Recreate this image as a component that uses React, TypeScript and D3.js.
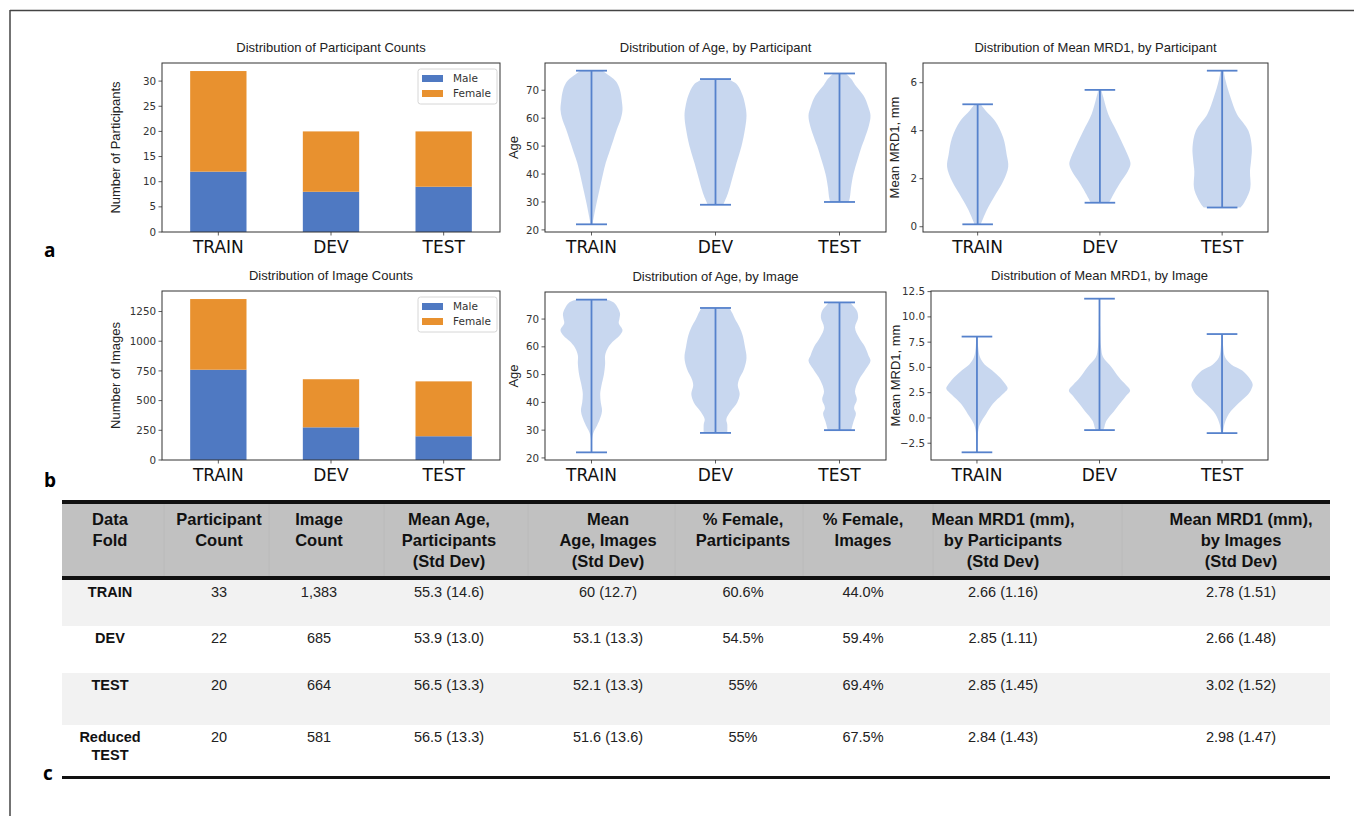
import React from "react";
import * as d3 from "d3";

const folds = ["TRAIN", "DEV", "TEST"];

// stacked bar values
const participantMale = [12, 8, 9];
const participantFemale = [20, 12, 11];
const imageMale = [760, 275, 200];
const imageFemale = [595, 405, 462];
const sexLabels = ["Male", "Female"];

const participantTicks = [0, 5, 10, 15, 20, 25, 30];
const imageTicks = [0, 250, 500, 750, 1000, 1250];
const ageTicks = [20, 30, 40, 50, 60, 70];
const mrdParticipantTicks = [0, 2, 4, 6];
const mrdImageTicks = [-2.5, 0, 2.5, 5, 7.5, 10, 12.5];

// violin outlines: [value, half-width relative to widest point]
// first entry = max (top cap), last entry = min (bottom cap)
const ageByParticipant = [
  [[77, 0.35], [75, 0.6], [73, 0.8], [70, 0.92], [66, 0.98], [63, 1.0], [60, 0.95], [56, 0.82], [52, 0.7], [48, 0.58], [44, 0.46], [40, 0.37], [35, 0.27], [30, 0.17], [25, 0.08], [22, 0.03]],
  [[74, 0.4], [72, 0.7], [68, 0.88], [64, 0.97], [61, 1.0], [56, 0.95], [50, 0.84], [44, 0.68], [38, 0.53], [33, 0.4], [29, 0.25]],
  [[76, 0.2], [74, 0.38], [72, 0.5], [68, 0.78], [64, 0.93], [61, 1.0], [57, 0.94], [53, 0.82], [50, 0.72], [45, 0.58], [40, 0.45], [35, 0.37], [32, 0.34], [30, 0.3]],
];
const mrdByParticipant = [
  [[5.1, 0.1], [4.85, 0.25], [4.4, 0.57], [3.7, 0.84], [3.0, 0.95], [2.5, 1.0], [1.9, 0.84], [1.2, 0.52], [0.7, 0.3], [0.1, 0.1]],
  [[5.7, 0.05], [5.4, 0.11], [4.7, 0.27], [4.0, 0.54], [3.3, 0.8], [2.8, 0.97], [2.6, 1.0], [2.3, 0.91], [1.8, 0.65], [1.2, 0.38], [1.0, 0.3]],
  [[6.5, 0.05], [6.1, 0.11], [5.4, 0.27], [4.7, 0.48], [4.0, 0.86], [3.3, 0.97], [2.8, 0.95], [2.3, 0.91], [1.6, 0.92], [1.0, 0.72], [0.8, 0.6]],
];
const ageByImage = [
  [[77, 0.5], [76, 0.72], [74, 0.85], [72, 0.92], [70, 0.9], [68.5, 0.88], [66, 1.0], [64, 0.9], [62, 0.7], [60, 0.55], [57, 0.44], [54, 0.44], [50, 0.4], [46, 0.32], [43, 0.28], [40, 0.3], [37, 0.34], [34, 0.27], [31, 0.15], [29, 0.06], [27, 0.02], [22, 0.01]],
  [[74, 0.45], [72, 0.55], [70, 0.63], [67, 0.78], [64, 0.88], [60, 0.95], [56, 1.0], [52, 0.92], [48, 0.75], [46, 0.72], [43, 0.78], [40, 0.7], [37, 0.5], [34, 0.35], [32, 0.38], [29, 0.38]],
  [[76, 0.35], [75, 0.42], [73, 0.56], [70.5, 0.6], [67, 0.5], [63.5, 0.62], [60, 0.82], [57, 0.93], [55, 1.0], [52, 0.85], [48, 0.62], [44, 0.5], [41, 0.56], [38, 0.47], [36, 0.53], [33, 0.45], [30, 0.38]],
];
const mrdByImage = [
  [[8.05, 0.02], [7, 0.04], [6, 0.1], [5.3, 0.25], [4.7, 0.5], [4, 0.75], [3.2, 0.96], [2.9, 1.0], [2.3, 0.82], [1.4, 0.52], [0.4, 0.3], [-0.6, 0.1], [-1.3, 0.04], [-2.5, 0.01], [-3.4, 0.0]],
  [[11.8, 0.01], [9, 0.02], [7, 0.05], [6, 0.12], [5, 0.4], [4, 0.64], [3.3, 0.85], [2.7, 1.0], [2.2, 0.87], [1.7, 0.74], [0.7, 0.48], [-0.3, 0.22], [-1.0, 0.15], [-1.2, 0.12]],
  [[8.3, 0.02], [7, 0.04], [6, 0.1], [5.3, 0.3], [4.7, 0.66], [4, 0.88], [3.3, 1.0], [2.8, 0.95], [2.3, 0.84], [1.4, 0.52], [0.4, 0.22], [-0.6, 0.08], [-1.5, 0.03]],
];

// table
const tableHeader = [
  ["Data", "Fold"],
  ["Participant", "Count"],
  ["Image", "Count"],
  ["Mean Age,", "Participants", "(Std Dev)"],
  ["Mean", "Age, Images", "(Std Dev)"],
  ["% Female,", "Participants"],
  ["% Female,", "Images"],
  ["Mean MRD1 (mm),", "by Participants", "(Std Dev)"],
  ["Mean MRD1 (mm),", "by Images", "(Std Dev)"],
];
const tableRows = [
  [["TRAIN"], "33", "1,383", "55.3 (14.6)", "60 (12.7)", "60.6%", "44.0%", "2.66 (1.16)", "2.78 (1.51)"],
  [["DEV"], "22", "685", "53.9 (13.0)", "53.1 (13.3)", "54.5%", "59.4%", "2.85 (1.11)", "2.66 (1.48)"],
  [["TEST"], "20", "664", "56.5 (13.3)", "52.1 (13.3)", "55%", "69.4%", "2.85 (1.45)", "3.02 (1.52)"],
  [["Reduced", "TEST"], "20", "581", "56.5 (13.3)", "51.6 (13.6)", "55%", "67.5%", "2.84 (1.43)", "2.98 (1.47)"],
];

const MPL = "'DejaVu Sans', sans-serif";
const ARIAL = "'Liberation Sans', Arial, sans-serif";
const MALE = "#4f79c2";
const FEMALE = "#e8912f";
const VIOLIN = "#4a7cc9";
const VLINE = "#5682cc";

const fmtMinus = (f) => (v) => f(v).replace("-", "\u2212");

function Axes({ x0, x1, y0, y1, y, ticks, fmt, title, ylabel, ylabelX, xpos, children }) {
  return (
    <g>
      {children}
      <rect x={x0} y={y0} width={x1 - x0} height={y1 - y0} fill="none" stroke="#333" strokeWidth={1} />
      {ticks.map((t) => (
        <g key={t}>
          <line x1={x0 - 3.5} x2={x0} y1={y(t)} y2={y(t)} stroke="#333" strokeWidth={0.8} />
          <text x={x0 - 6} y={y(t)} dy="0.35em" textAnchor="end" fontFamily={MPL} fontSize={10.3} fill="#333">
            {fmt(t)}
          </text>
        </g>
      ))}
      {xpos.map((p, i) => (
        <g key={folds[i]}>
          <line x1={p} x2={p} y1={y1} y2={y1 + 3.5} stroke="#333" strokeWidth={0.8} />
          <text x={p} y={y1 + 20.5} textAnchor="middle" fontFamily={MPL} fontSize={17} fill="#111">
            {folds[i]}
          </text>
        </g>
      ))}
      <text x={(x0 + x1) / 2} y={y0 - 11} textAnchor="middle" fontFamily={ARIAL} fontSize={13} fill="#222">
        {title}
      </text>
      <text
        transform={`translate(${ylabelX},${(y0 + y1) / 2}) rotate(-90)`}
        textAnchor="middle"
        fontFamily={ARIAL}
        fontSize={13}
        fill="#222"
      >
        {ylabel}
      </text>
    </g>
  );
}

function BarPanel({ x0, x1, y0, y1, male, female, ticks, title, ylabel }) {
  const x = d3.scaleBand().domain(folds).range([x0, x1]).paddingInner(0.5).paddingOuter(0.25);
  const totals = male.map((m, i) => m + female[i]);
  const y = d3.scaleLinear().domain([0, d3.max(totals) * 1.05]).range([y1, y0]);
  const rows = folds.map((f, i) => ({ fold: f, Male: male[i], Female: female[i] }));
  const stack = d3.stack().keys(sexLabels)(rows);
  const color = d3.scaleOrdinal().domain(sexLabels).range([MALE, FEMALE]);
  const lx = x1 - 82;
  const ly = y0 + 6;
  return (
    <Axes
      x0={x0} x1={x1} y0={y0} y1={y1} y={y} ticks={ticks} fmt={(v) => String(v)}
      title={title} ylabel={ylabel} ylabelX={120}
      xpos={folds.map((f) => x(f) + x.bandwidth() / 2)}
    >
      {stack.map((s) =>
        s.map((d, i) => (
          <rect
            key={s.key + i}
            x={x(folds[i])}
            y={y(d[1])}
            width={x.bandwidth()}
            height={y(d[0]) - y(d[1])}
            fill={color(s.key)}
          />
        ))
      )}
      <rect x={lx} y={ly} width={79} height={35} rx={2.5} fill="#fff" fillOpacity={0.85} stroke="#d6d6d6" />
      {sexLabels.map((k, i) => (
        <g key={k}>
          <rect x={lx + 4} y={ly + 6 + i * 15} width={21} height={7} fill={color(k)} />
          <text x={lx + 35} y={ly + 9.5 + i * 15} dy="0.35em" fontFamily={MPL} fontSize={10.5} fill="#333">
            {k}
          </text>
        </g>
      ))}
    </Axes>
  );
}

function ViolinPanel({ x0, x1, y0, y1, xmin = 0.625, profiles, ticks, fmt, title, ylabel, ylabelX }) {
  const x = d3.scaleLinear().domain([xmin, 3.375]).range([x0, x1]);
  const lo = d3.min(profiles, (p) => p[p.length - 1][0]);
  const hi = d3.max(profiles, (p) => p[0][0]);
  const pad = (hi - lo) * 0.05;
  const y = d3.scaleLinear().domain([lo - pad, hi + pad]).range([y1, y0]);
  const half = x(1.25) - x(1);
  const cap = x(1.125) - x(1);
  return (
    <Axes
      x0={x0} x1={x1} y0={y0} y1={y1} y={y} ticks={ticks} fmt={fmt}
      title={title} ylabel={ylabel} ylabelX={ylabelX}
      xpos={folds.map((f, i) => x(i + 1))}
    >
      {profiles.map((p, i) => {
        const c = x(i + 1);
        const area = d3
          .area()
          .y((d) => y(d[0]))
          .x0((d) => c - d[1] * half)
          .x1((d) => c + d[1] * half)
          .curve(d3.curveCatmullRom.alpha(0.5));
        const top = y(p[0][0]);
        const bot = y(p[p.length - 1][0]);
        return (
          <g key={folds[i]}>
            <path d={area(p)} fill={VIOLIN} fillOpacity={0.3} />
            <line x1={c} x2={c} y1={top} y2={bot} stroke={VLINE} strokeWidth={1.8} />
            <line x1={c - cap} x2={c + cap} y1={top} y2={top} stroke={VLINE} strokeWidth={1.8} />
            <line x1={c - cap} x2={c + cap} y1={bot} y2={bot} stroke={VLINE} strokeWidth={1.8} />
          </g>
        );
      })}
    </Axes>
  );
}

const colCenters = [110, 219, 319, 449, 608, 743, 863, 1003, 1241];
const colEdges = [164, 269, 384, 528, 675, 803, 933, 1122];
const rowTops = [580, 626, 673, 725];
const rowBottom = 776;

function Table() {
  const left = 62;
  const right = 1330;
  return (
    <g fontFamily={ARIAL}>
      <rect x={left} y={503} width={right - left} height={74} fill="#c1c1c1" />
      {colEdges.map((e) => (
        <line key={e} x1={e} x2={e} y1={504} y2={576} stroke="#bababa" strokeWidth={1} />
      ))}
      {rowTops.map((t, i) => (
        <rect
          key={t}
          x={left}
          y={t}
          width={right - left}
          height={(i < rowTops.length - 1 ? rowTops[i + 1] : rowBottom) - t}
          fill={i % 2 === 0 ? "#f2f2f2" : "#ffffff"}
        />
      ))}
      <rect x={left} y={500} width={right - left} height={4} fill="#111" />
      <rect x={left} y={576} width={right - left} height={4} fill="#111" />
      <rect x={left} y={776} width={right - left} height={3} fill="#111" />
      {tableHeader.map((lines, c) =>
        lines.map((s, k) => (
          <text key={c + "-" + k} x={colCenters[c]} y={525 + k * 21} textAnchor="middle" fontSize={16.5} fontWeight="bold" fill="#111">
            {s}
          </text>
        ))
      )}
      {tableRows.map((row, r) =>
        row.map((cell, c) =>
          Array.isArray(cell) ? (
            cell.map((s, k) => (
              <text key={r + "-" + c + "-" + k} x={colCenters[c]} y={rowTops[r] + 17 + k * 18} textAnchor="middle" fontSize={14.5} fontWeight="bold" fill="#111">
                {s}
              </text>
            ))
          ) : (
            <text key={r + "-" + c} x={colCenters[c]} y={rowTops[r] + 17} textAnchor="middle" fontSize={14.5} fill="#222">
              {cell}
            </text>
          )
        )
      )}
    </g>
  );
}

export default function App() {
  const f1 = fmtMinus(d3.format(".1f"));
  return (
    <svg width={1354} height={816} style={{ position: "absolute", left: 0, top: 0, background: "#fff" }}>
      <rect width={1354} height={816} fill="#fff" />
      <line x1={10} x2={10} y1={10} y2={816} stroke="#444" strokeWidth={1.5} />
      <line x1={10} x2={1354} y1={10.5} y2={10.5} stroke="#444" strokeWidth={1.5} />

      <BarPanel x0={162} x1={500} y0={63} y1={232} male={participantMale} female={participantFemale}
        ticks={participantTicks} title="Distribution of Participant Counts" ylabel="Number of Participants" />
      <ViolinPanel x0={545} x1={886} y0={63} y1={232} profiles={ageByParticipant} ticks={ageTicks}
        fmt={(v) => String(v)} title="Distribution of Age, by Participant" ylabel="Age" ylabelX={518} />
      <ViolinPanel x0={923} x1={1268} xmin={0.553} y0={63} y1={232} profiles={mrdByParticipant} ticks={mrdParticipantTicks}
        fmt={(v) => String(v)} title="Distribution of Mean MRD1, by Participant" ylabel="Mean MRD1, mm" ylabelX={899} />

      <BarPanel x0={162} x1={500} y0={291} y1={460} male={imageMale} female={imageFemale}
        ticks={imageTicks} title="Distribution of Image Counts" ylabel="Number of Images" />
      <ViolinPanel x0={545} x1={886} y0={292} y1={460} profiles={ageByImage} ticks={ageTicks}
        fmt={(v) => String(v)} title="Distribution of Age, by Image" ylabel="Age" ylabelX={518} />
      <ViolinPanel x0={931} x1={1268} y0={291} y1={460} profiles={mrdByImage} ticks={mrdImageTicks}
        fmt={f1} title="Distribution of Mean MRD1, by Image" ylabel="Mean MRD1, mm" ylabelX={900} />

      <Table />

      <g fontFamily="'Open Sans', 'DejaVu Sans', sans-serif" fontWeight="bold" fontSize={19} fill="#000">
        <text x={44} y={257}>a</text>
        <text x={44} y={487}>b</text>
        <text x={43} y={780}>c</text>
      </g>
    </svg>
  );
}
